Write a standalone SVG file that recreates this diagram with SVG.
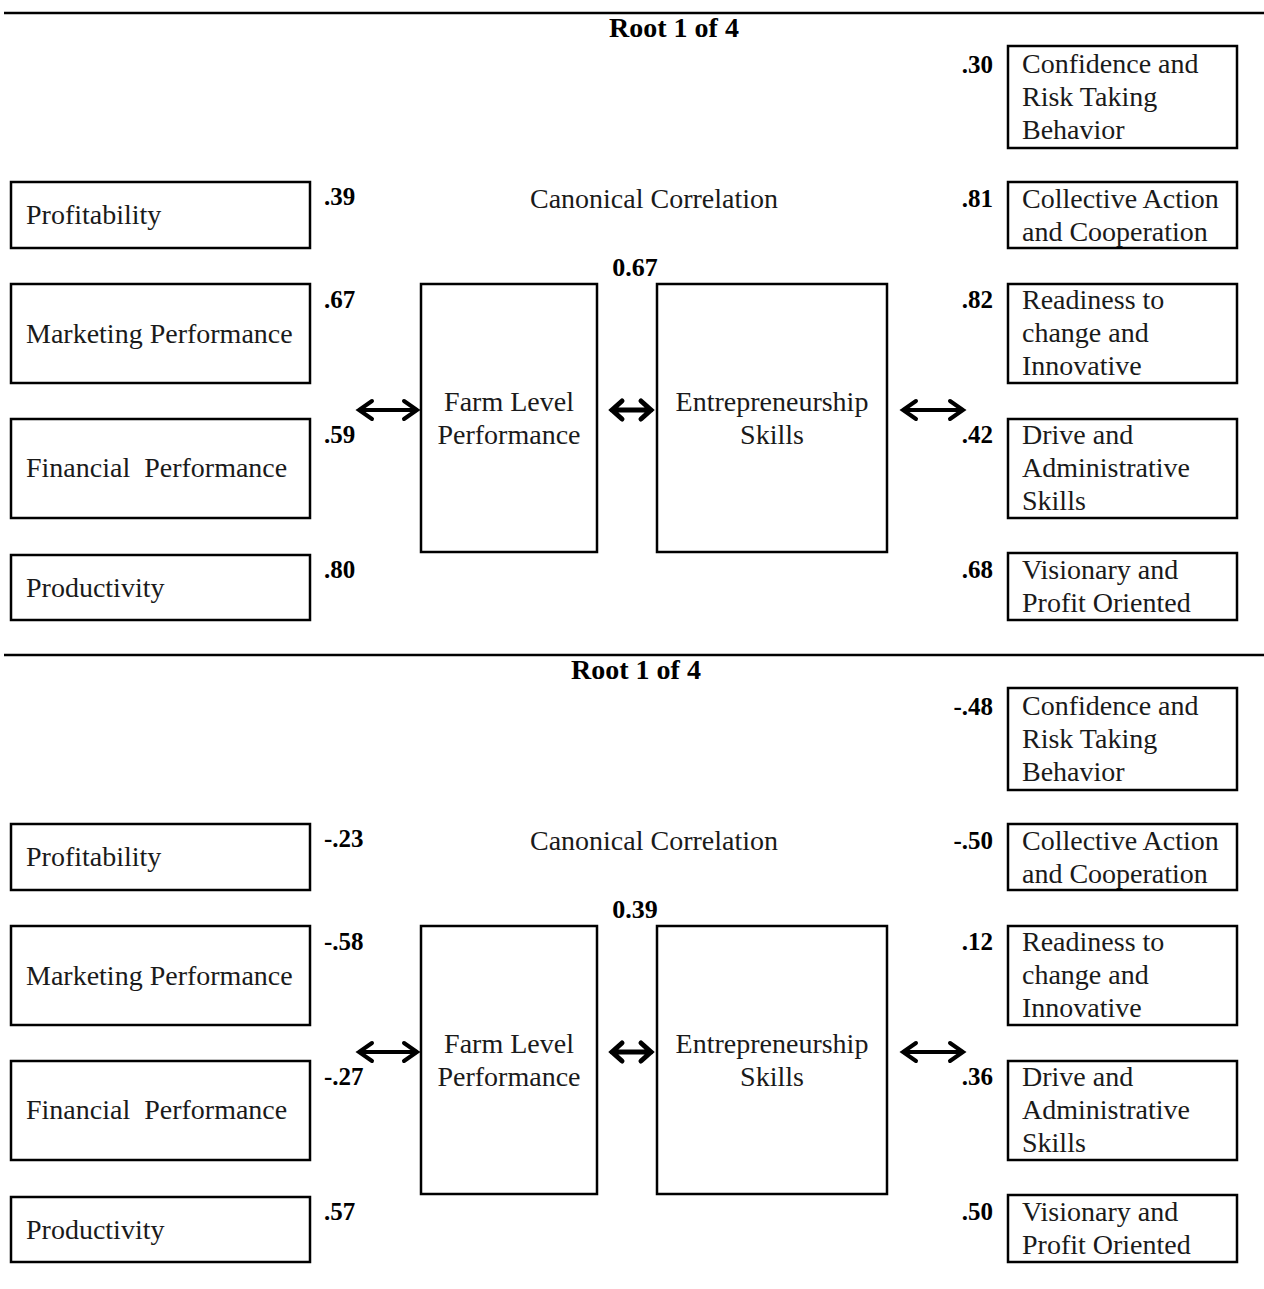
<svg xmlns="http://www.w3.org/2000/svg" width="1264" height="1289" viewBox="0 0 1264 1289">
<defs>
<style>
.bx{fill:#fff;stroke:#000;stroke-width:2.5}
.t{font-family:"Liberation Serif","Times New Roman",serif;font-size:28px;fill:#1a1a1a}
.c{text-anchor:middle}
.n{font-family:"Liberation Serif","Times New Roman",serif;font-size:25px;font-weight:bold;fill:#000}
.k{font-family:"Liberation Serif","Times New Roman",serif;font-size:26px;font-weight:bold;fill:#000;text-anchor:middle}
.r{text-anchor:end}
.h{font-family:"Liberation Serif","Times New Roman",serif;font-size:28px;font-weight:bold;text-anchor:middle}
.rule{stroke:#000;stroke-width:2.5}
.ar{fill:none;stroke:#000;stroke-width:4;stroke-linecap:round;stroke-linejoin:miter}
</style>
<g id="panel">
<line class="rule" x1="4" y1="13" x2="1264" y2="13"/>
<g id="n-prof"><rect class="bx" x="11" y="182" width="299" height="66"/><text class="t" x="26" y="224">Profitability</text></g>
<g id="n-mkt"><rect class="bx" x="11" y="284" width="299" height="99"/><text class="t" x="26" y="343">Marketing Performance</text></g>
<g id="n-fin"><rect class="bx" x="11" y="419" width="299" height="99"/><text class="t" x="26" y="477" xml:space="preserve">Financial  Performance</text></g>
<g id="n-prod"><rect class="bx" x="11" y="555" width="299" height="65"/><text class="t" x="26" y="597">Productivity</text></g>
<g id="n-farm"><rect class="bx" x="421" y="284" width="176" height="268"/><text class="t c" x="509" y="411">Farm Level</text><text class="t c" x="509" y="444">Performance</text></g>
<g id="n-ent"><rect class="bx" x="657" y="284" width="230" height="268"/><text class="t c" x="772" y="411">Entrepreneurship</text><text class="t c" x="772" y="444">Skills</text></g>
<g id="n-conf"><rect class="bx" x="1008" y="46" width="229" height="102"/><text class="t" x="1022" y="73">Confidence and</text><text class="t" x="1022" y="106">Risk Taking</text><text class="t" x="1022" y="139">Behavior</text></g>
<g id="n-coll"><rect class="bx" x="1008" y="182" width="229" height="66"/><text class="t" x="1022" y="208">Collective Action</text><text class="t" x="1022" y="241">and Cooperation</text></g>
<g id="n-read"><rect class="bx" x="1008" y="284" width="229" height="99"/><text class="t" x="1022" y="309">Readiness to</text><text class="t" x="1022" y="342">change and</text><text class="t" x="1022" y="375">Innovative</text></g>
<g id="n-drive"><rect class="bx" x="1008" y="419" width="229" height="99"/><text class="t" x="1022" y="444">Drive and</text><text class="t" x="1022" y="477">Administrative</text><text class="t" x="1022" y="510">Skills</text></g>
<g id="n-vis"><rect class="bx" x="1008" y="553" width="229" height="67"/><text class="t" x="1022" y="579">Visionary and</text><text class="t" x="1022" y="612">Profit Oriented</text></g>
<g id="connectors">
<path class="ar" d="M359 410H417M372 401L359 410L372 419M404 401L417 410L404 419"/>
<path class="ar" d="M612 410H651M622 401L612 410L622 419M641 401L651 410L641 419" style="stroke-width:5"/>
<path class="ar" d="M903 410H963M916 401L903 410L916 419M950 401L963 410L950 419"/>
</g>
</g>
</defs>
<rect width="1264" height="1289" fill="#fff"/>
<use href="#panel"/>
<use href="#panel" y="642"/>
<text class="h" x="674" y="37">Root 1 of 4</text>
<text class="h" x="636" y="679">Root 1 of 4</text>
<text class="t c" x="654" y="208">Canonical Correlation</text>
<text class="t c" x="654" y="850">Canonical Correlation</text>
<text class="k" x="635" y="276">0.67</text>
<text class="k" x="635" y="918">0.39</text>
<g id="loadings1">
<text class="n" x="324" y="205">.39</text>
<text class="n" x="324" y="308">.67</text>
<text class="n" x="324" y="443">.59</text>
<text class="n" x="324" y="578">.80</text>
<text class="n r" x="993" y="73">.30</text>
<text class="n r" x="993" y="207">.81</text>
<text class="n r" x="993" y="308">.82</text>
<text class="n r" x="993" y="443">.42</text>
<text class="n r" x="993" y="578">.68</text>
</g>
<g id="loadings2">
<text class="n" x="324" y="847">-.23</text>
<text class="n" x="324" y="950">-.58</text>
<text class="n" x="324" y="1085">-.27</text>
<text class="n" x="324" y="1220">.57</text>
<text class="n r" x="993" y="715">-.48</text>
<text class="n r" x="993" y="849">-.50</text>
<text class="n r" x="993" y="950">.12</text>
<text class="n r" x="993" y="1085">.36</text>
<text class="n r" x="993" y="1220">.50</text>
</g>
</svg>
